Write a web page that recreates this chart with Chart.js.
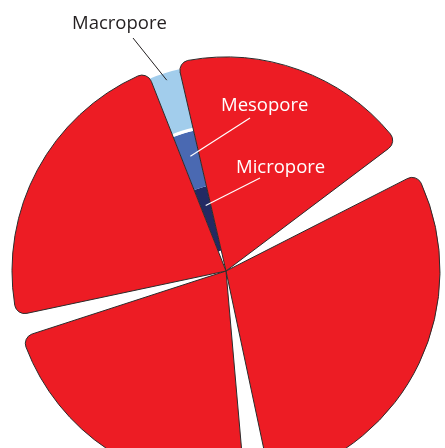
<!DOCTYPE html>
<html><head><meta charset="utf-8">
<script src="https://cdn.jsdelivr.net/npm/chart.js@4"></script>
<style>
html,body{margin:0;padding:0;width:445px;height:448px;overflow:hidden;background:#fff;}
#wrap{position:relative;width:445px;height:448px;overflow:hidden;}
canvas{position:absolute;left:0;top:0;}
.lbl{position:absolute;font-family:"Open Sans",sans-serif;font-size:18.5px;line-height:1;white-space:nowrap;}
</style></head><body>
<div id="wrap">
<canvas id="bands" width="452" height="542"></canvas>
<canvas id="pie" width="452" height="542"></canvas>
<div class="lbl" style="left:72px;top:13px;color:#231f20">Macropore</div>
<div class="lbl" style="left:221px;top:95px;color:#fff">Mesopore</div>
<div class="lbl" style="left:236px;top:157px;color:#fff">Micropore</div>
</div>
<script>
// Angular share of each sector (degrees, clockwise starting at the pore channel)
const wedgeLabels = ['Pore channel','Grain A','Gap A-B','Grain B','Gap B-C','Grain C','Gap C-D','Grain D'];
const wedgeAngles = [8.5, 66, 10, 105, 7, 77, 6, 80.5];
// Pore classes along the channel, outermost first, with their relative radial extent
const poreClasses = ['Macropore','Mesopore','Micropore'];
const poreExtent  = [60, 57, 66];
const separatorExtent = 3;

const RED = '#ED1C24';
const EDGE = '#2b2b2b';
const poreColors = {Macropore:'#A2CDEC', Mesopore:'#4A69B2', Micropore:'#232A63'};
const clear = 'rgba(0,0,0,0)';
const isGrain = wedgeLabels.map(l => l.startsWith('Grain'));
const startAngle = -21.5;

// ---- pore bands (drawn underneath) ----
function bandDataset(label, color, weight){
  return {
    label, data: wedgeAngles.slice(), weight,
    backgroundColor: wedgeLabels.map((l,i)=> i===0 ? color : clear),
    borderWidth: 0
  };
}
const bandSets = [
  bandDataset(poreClasses[0], poreColors.Macropore, poreExtent[0]),
  bandDataset('sep', '#ffffff', separatorExtent),
  bandDataset(poreClasses[1], poreColors.Mesopore, poreExtent[1]),
  bandDataset(poreClasses[2], poreColors.Micropore, poreExtent[2])
];
const bandChart = new Chart(document.getElementById('bands'), {
  type: 'doughnut',
  data: { labels: wedgeLabels, datasets: bandSets },
  options: {
    responsive: false, animation: false, events: [],
    rotation: startAngle, radius: 207, cutout: '10.14%',
    layout: { padding: 0 },
    plugins: { legend: { display: false }, tooltip: { enabled: false } }
  }
});

// ---- leader lines ----
const leaderPlugin = {
  id: 'leaders',
  afterDraw(chart){
    const ctx = chart.ctx;
    const pore = chart.getDatasetMeta(0).data[0];
    const a = (pore.startAngle + pore.endAngle) / 2;
    const cx = pore.x, cy = pore.y;
    const ringIdx = {Macropore:0, Mesopore:2, Micropore:3};
    const spec = [
      {cls:'Macropore', frac:0.88, from:[133,38], color:'#231f20', w:1},
      {cls:'Mesopore',  frac:0.58, from:[250,118], color:'#ffffff', w:1.2},
      {cls:'Micropore', frac:0.72, from:[260,178], color:'#ffffff', w:1.2}
    ];
    ctx.save();
    spec.forEach(s => {
      const arc = bandChart.getDatasetMeta(ringIdx[s.cls]).data[0];
      const r = arc.innerRadius + s.frac * (arc.outerRadius - arc.innerRadius);
      const x = cx + r * Math.cos(a), y = cy + r * Math.sin(a);
      ctx.strokeStyle = s.color; ctx.lineWidth = s.w;
      ctx.beginPath(); ctx.moveTo(s.from[0], s.from[1]); ctx.lineTo(x, y); ctx.stroke();
    });
    ctx.restore();
  }
};

// ---- grains (drawn on top) ----
new Chart(document.getElementById('pie'), {
  type: 'pie',
  data: {
    labels: wedgeLabels,
    datasets: [{
      data: wedgeAngles,
      backgroundColor: isGrain.map(g => g ? RED : clear),
      borderColor: isGrain.map(g => g ? EDGE : clear),
      borderWidth: isGrain.map(g => g ? 1 : 0),
      borderRadius: isGrain.map(g => g ? {outerStart:10, outerEnd:10, innerStart:0, innerEnd:0} : 0)
    }]
  },
  options: {
    responsive: false, animation: false, events: [],
    rotation: startAngle, radius: 214,
    layout: { padding: 0 },
    plugins: { legend: { display: false }, tooltip: { enabled: false } }
  },
  plugins: [leaderPlugin]
});
</script>
</body></html>
